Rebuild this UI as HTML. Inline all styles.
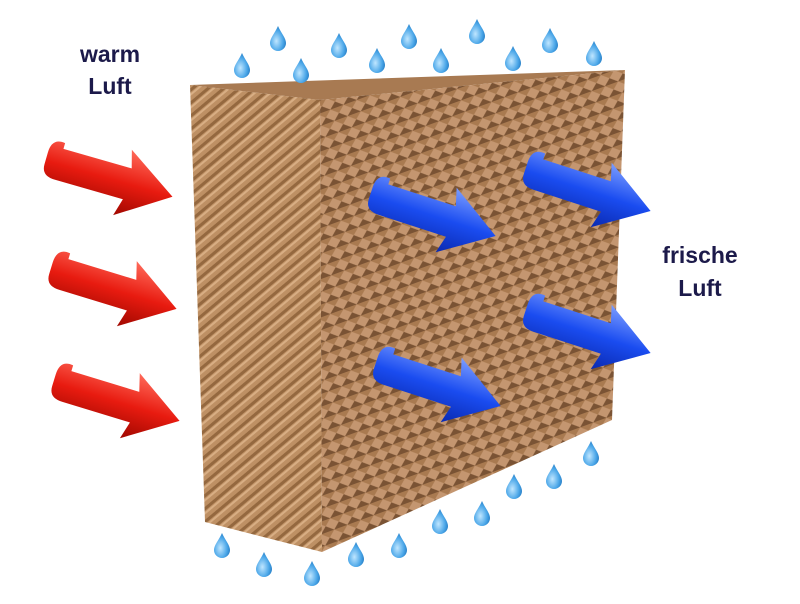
<!DOCTYPE html>
<html><head><meta charset="utf-8"><style>
html,body{margin:0;padding:0;background:#fff;width:800px;height:604px;overflow:hidden}
svg{display:block}
</style></head><body>
<svg width="800" height="604" viewBox="0 0 800 604" xmlns="http://www.w3.org/2000/svg">
<defs>
<pattern id="stripes" width="10" height="10" patternUnits="userSpaceOnUse" patternTransform="rotate(-40)">
<rect width="10" height="10" fill="#be9064"/>
<rect width="10" height="3" fill="#94683f"/>
<rect y="4" width="10" height="2" fill="#d8ae84"/>
</pattern>
<pattern id="mesh" width="14" height="12" patternUnits="userSpaceOnUse" patternTransform="rotate(-20)">
<rect width="14" height="12" fill="#a97a50"/>
<path d="M0,6 L7,0 L14,6 L7,12 Z" fill="#c49670"/>
<path d="M0,6 L7,12 L0,12 Z M14,6 L7,12 L14,12 Z" fill="#7a5334"/>
</pattern>
<linearGradient id="red" x1="0" y1="0" x2="0" y2="1">
<stop offset="0" stop-color="#ff6a5a"/><stop offset="0.5" stop-color="#e81b10"/><stop offset="1" stop-color="#a00800"/>
</linearGradient>
<linearGradient id="blue" x1="0" y1="0" x2="0" y2="1">
<stop offset="0" stop-color="#7a9cff"/><stop offset="0.5" stop-color="#1a4cf0"/><stop offset="1" stop-color="#0a2ab0"/>
</linearGradient>
<radialGradient id="drop" cx="0.4" cy="0.6" r="0.7">
<stop offset="0" stop-color="#bfe6ff"/><stop offset="0.6" stop-color="#4aa6e8"/><stop offset="1" stop-color="#1a6fb8"/>
</radialGradient>
<path id="arr" d="M0,8 Q0,-8 14,-6 L14,0 L85,0 L80,-18 L132,16 L80,50 L85,32 L14,32 Q0,32 0,20 Z"/>
<path id="dr" d="M0,-12 C3,-5 8,0 8,5 A8,8 0 0 1 -8,5 C-8,0 -3,-5 0,-12 Z"/>
</defs>
<polygon points="190,85 320,100 322,552 205,522" fill="url(#stripes)"/>
<polygon points="190,85 625,70 320,100" fill="#a87a52"/>
<polygon points="320,100 625,70 612,420 322,552" fill="url(#mesh)"/>
<g font-family="Liberation Sans, sans-serif" font-weight="bold" font-size="23" fill="#1c1a4a" text-anchor="middle">
<text x="110" y="62">warm</text><text x="110" y="94">Luft</text>
<text x="700" y="263">frische</text><text x="700" y="296">Luft</text>
</g>
<g fill="url(#red)">
<use href="#arr" transform="translate(50,145) rotate(16)"/>
<use href="#arr" transform="translate(55,255) rotate(17)"/>
<use href="#arr" transform="translate(58,367) rotate(17)"/>
</g>
<g fill="url(#blue)">
<use href="#arr" transform="translate(375,180) rotate(18)"/>
<use href="#arr" transform="translate(530,155) rotate(18)"/>
<use href="#arr" transform="translate(530,297) rotate(18)"/>
<use href="#arr" transform="translate(380,350) rotate(18)"/>
</g>
<g fill="url(#drop)">
<use href="#dr" x="242" y="65"/><use href="#dr" x="278" y="38"/><use href="#dr" x="301" y="70"/>
<use href="#dr" x="339" y="45"/><use href="#dr" x="377" y="60"/><use href="#dr" x="409" y="36"/>
<use href="#dr" x="441" y="60"/><use href="#dr" x="477" y="31"/><use href="#dr" x="513" y="58"/>
<use href="#dr" x="550" y="40"/><use href="#dr" x="594" y="53"/>
<use href="#dr" x="222" y="545"/><use href="#dr" x="264" y="564"/><use href="#dr" x="312" y="573"/>
<use href="#dr" x="356" y="554"/><use href="#dr" x="399" y="545"/><use href="#dr" x="440" y="521"/>
<use href="#dr" x="482" y="513"/><use href="#dr" x="514" y="486"/><use href="#dr" x="554" y="476"/>
<use href="#dr" x="591" y="453"/>
</g>
</svg>
</body></html>
